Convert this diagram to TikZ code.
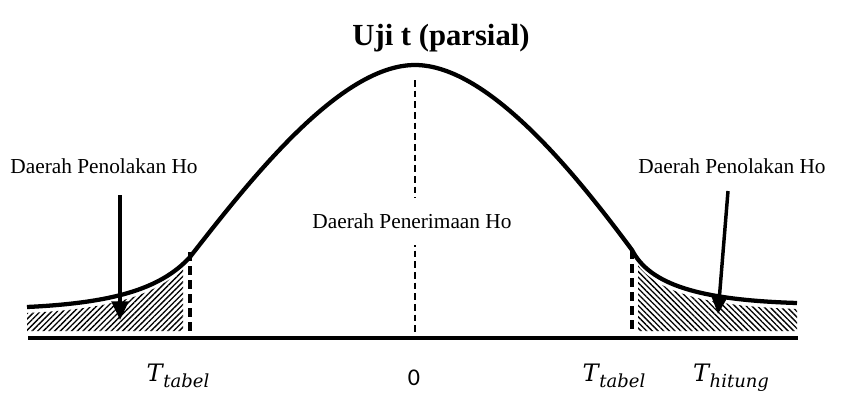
\documentclass[tikz,border=0pt]{standalone}
\usepackage{fontspec}
\setmainfont{Liberation Serif}
\newfontfamily\digitfont{Carlito}
\newfontfamily\tfont{DejaVu Serif}
\usepackage{tikz}
\usetikzlibrary{arrows.meta,patterns.meta}

\newcommand{\tlab}[1]{{\tfont\itshape T\kern0.5pt\raisebox{-4.5pt}{\fontsize{13.5}{14}\selectfont #1}}}

\begin{document}
\begin{tikzpicture}[x=0.75pt,y=-0.75pt,
    curve/.style={line width=3.2pt},
    axisline/.style={line width=3.2pt},
    crit/.style={line width=3pt,dash pattern=on 7pt off 3.5pt},
    mid/.style={line width=1.5pt,dash pattern=on 5pt off 3pt},
    arr/.style={line width=2.6pt,-{Triangle[length=14pt,width=12.5pt]}},
    lbl/.style={font=\fontsize{16}{18}\selectfont,inner sep=1pt},
    tick/.style={font=\fontsize{18}{20}\selectfont,anchor=base}
  ]
    \useasboundingbox (0,0) rectangle (841,397);

    % rejection areas
    \begin{scope}
      \clip (27,200) rectangle (183,331);
      \fill[pattern={Lines[angle=45,distance=3pt,line width=1pt]}]
        (27,313) .. controls (110,309) and (160,296) .. (190,261)
        -- (190,331) -- (27,331) -- cycle;
    \end{scope}
    \begin{scope}
      \clip (638,200) rectangle (797,331);
      \fill[pattern={Lines[angle=-45,distance=3pt,line width=1pt]}]
        (632,256) .. controls (650,291) and (700,306) .. (797,309)
        -- (797,331) -- (632,331) -- cycle;
    \end{scope}

    \draw[curve] (27,307) .. controls (110,303) and (160,290) .. (190,257)
      .. controls (250,180) and (340,65) .. (415,65)
      .. controls (490,65) and (580,180) .. (632,250)
      .. controls (650,285) and (700,300) .. (797,303);
    \draw[axisline] (28,338) -- (798,338);
    \draw[crit] (190,252) -- (190,331);
    \draw[crit] (632,250) -- (632,331);
    \draw[mid] (415,80) -- (415,336);

    \node[lbl] (title) at (441,38) {\fontsize{23}{26}\selectfont\bfseries Uji t (parsial)};
    \node[lbl] (rejL) at (104,166) {Daerah Penolakan Ho};
    \node[lbl] (rejR) at (732,166) {Daerah Penolakan Ho};
    \node[lbl,fill=white,inner ysep=12pt] (acc) at (412,221) {Daerah Penerimaan Ho};

    \coordinate (aL) at (120,195);
    \coordinate (tipL) at (120,320);
    \coordinate (aR) at (728,191);
    \coordinate (tipR) at (718,314);
    \draw[arr] (aL) -- (tipL);
    \draw[arr] (aR) -- (tipR);

    \node[tick] (tL) at (178,381) {\tlab{tabel}};
    \node[tick] (zero) at (414,385) {\digitfont 0};
    \node[tick] (tR) at (614,381) {\tlab{tabel}};
    \node[tick] (th) at (731,381) {\tlab{hitung}};
  \end{tikzpicture}
\end{document}
